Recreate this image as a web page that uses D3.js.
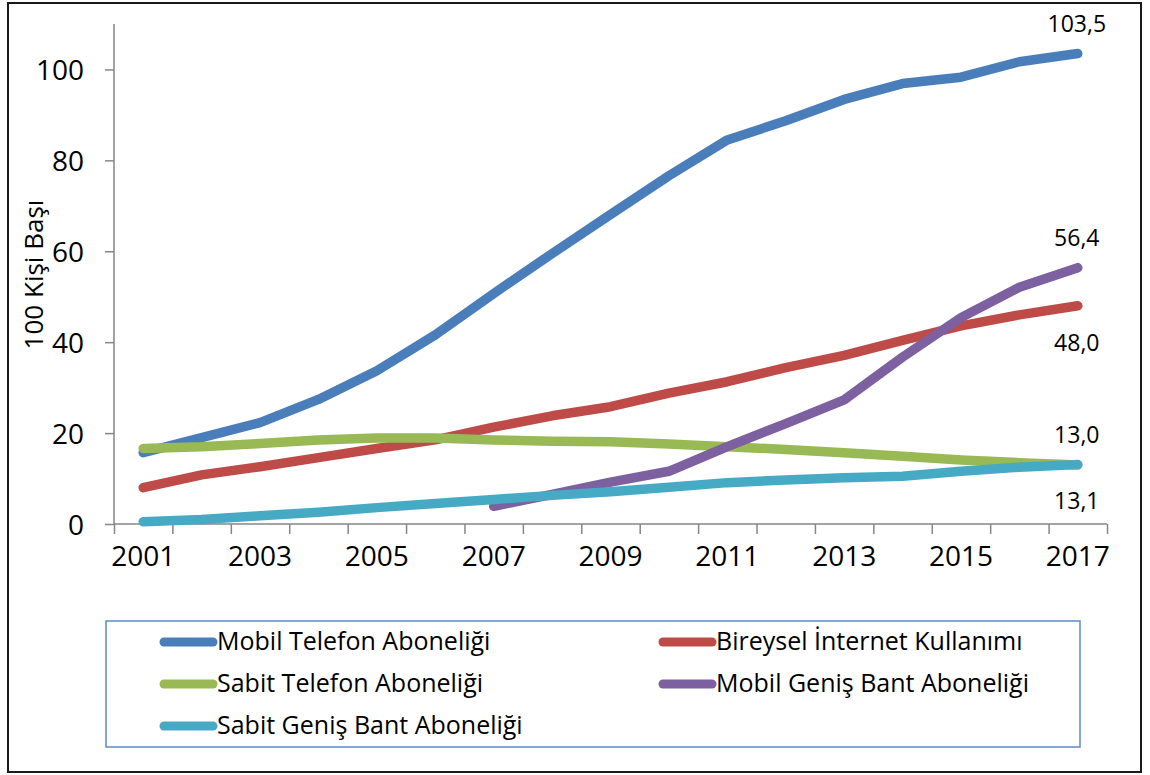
<!DOCTYPE html>
<html>
<head>
<meta charset="utf-8">
<script src="https://cdn.jsdelivr.net/npm/d3@7"></script>
<style>
  html, body { margin: 0; padding: 0; background: #fff; }
  svg { display: block; font-family: "Open Sans", sans-serif; }
</style>
</head>
<body>
<svg id="chart" width="1150" height="775"></svg>
<script>
// ---- data ----
const years = [2001,2002,2003,2004,2005,2006,2007,2008,2009,2010,2011,2012,2013,2014,2015,2016,2017];
const tickYears = [2001,2003,2005,2007,2009,2011,2013,2015,2017];
const yTicks = [0,20,40,60,80,100];
const seriesNames = ["Mobil Telefon Aboneliği","Bireysel İnternet Kullanımı","Sabit Telefon Aboneliği","Mobil Geniş Bant Aboneliği","Sabit Geniş Bant Aboneliği"];
const mobilTelefon   = [15.7,19.0,22.3,27.4,33.7,41.6,50.7,59.5,68.1,76.6,84.5,88.7,93.4,96.9,98.3,101.7,103.5];
const bireyselInternet = [8.0,10.8,12.6,14.6,16.6,18.5,21.3,23.8,25.8,28.8,31.3,34.4,37.1,40.4,43.6,46.0,48.0];
const sabitTelefon   = [16.6,17.0,17.7,18.5,18.9,18.9,18.5,18.2,18.1,17.6,17.0,16.4,15.7,14.9,14.1,13.5,13.0];
const mobilGenisBant = [null,null,null,null,null,null,3.9,6.5,9.2,11.6,17.0,22.1,27.3,36.7,45.4,52.1,56.4];
const sabitGenisBant = [0.5,1.0,1.8,2.6,3.6,4.5,5.4,6.3,7.1,8.1,9.1,9.7,10.2,10.5,11.6,12.5,13.1];
const seriesValues = [mobilTelefon, bireyselInternet, sabitTelefon, mobilGenisBant, sabitGenisBant];
const colors = ["#4A7EBB","#BE4B48","#98B954","#7D60A0","#46AAC5"];
const yTitle = "100 Kişi Başı";
// end-of-line labels: series index and placement
const endLabelSeries = [0,3,1,2,4];
const endLabelPlace  = ["above","above","below","above","below"];

(function draw() {
  const svg = d3.select("#chart");
  const pLeft = 114, pRight = 1107, pTop = 24, pBottom = 524;

  const x = d3.scaleBand().domain(years).range([pLeft, pRight]).padding(0);
  const xc = d => x(d) + x.bandwidth() / 2;
  const y = d3.scaleLinear().domain([0, 110]).range([pBottom, pTop]);
  const fmt = d3.formatLocale({decimal: ",", thousands: ".", grouping: [3], currency: ["", ""]}).format(".1f");

  // outer border
  svg.append("rect").attr("x", 8).attr("y", 3).attr("width", 1133).attr("height", 769)
    .attr("fill", "none").attr("stroke", "#1a1a1a").attr("stroke-width", 2);

  const axisColor = "#868686";

  // y axis
  const yAxis = svg.append("g").attr("transform", `translate(${pLeft},0)`)
    .call(d3.axisLeft(y).tickValues(yTicks).tickSize(9).tickPadding(21).tickFormat(d3.format("d")));
  yAxis.select(".domain").attr("stroke", axisColor).attr("stroke-width", 1.5).attr("d", `M0,${pTop}V${pBottom}`);
  yAxis.selectAll(".tick line").attr("stroke", axisColor).attr("stroke-width", 1.5);
  yAxis.selectAll(".tick text").attr("fill", "#000").style("font-size", "28px")
    .style("font-family", "'Open Sans', sans-serif").attr("dy", "0.36em");

  // x axis: boundary ticks
  const xb = d3.scaleLinear().domain([0, years.length]).range([pLeft, pRight]);
  const xAxis = svg.append("g").attr("transform", `translate(0,${pBottom})`)
    .call(d3.axisBottom(xb).tickValues(d3.range(years.length + 1)).tickSize(10).tickFormat(""));
  xAxis.select(".domain").attr("stroke", axisColor).attr("stroke-width", 1.5).attr("d", `M${pLeft},0H${pRight}`);
  xAxis.selectAll(".tick line").attr("stroke", axisColor).attr("stroke-width", 1.5);

  // x labels
  const xLab = svg.append("g").attr("transform", `translate(0,${pBottom})`)
    .call(d3.axisBottom(x).tickValues(tickYears).tickSize(0).tickPadding(22));
  xLab.select(".domain").remove();
  xLab.selectAll(".tick text").attr("fill", "#000").style("font-size", "28px")
    .style("font-family", "'Open Sans', sans-serif");

  // y title
  svg.append("text").attr("transform", `translate(43,${(197 + 352) / 2}) rotate(-90)`)
    .attr("text-anchor", "middle").style("font-size", "26px").attr("fill", "#000").text(yTitle);

  // lines
  const line = d3.line().defined(d => d.v != null).x(d => xc(d.year)).y(d => y(d.v));
  seriesValues.forEach((vals, i) => {
    const pts = years.map((yr, j) => ({year: yr, v: vals[j]}));
    svg.append("path").datum(pts).attr("d", line)
      .attr("fill", "none").attr("stroke", colors[i]).attr("stroke-width", 9.5)
      .attr("stroke-linecap", "round").attr("stroke-linejoin", "round");
  });

  // end labels
  const lastYear = years[years.length - 1];
  endLabelSeries.forEach((si, k) => {
    const v = seriesValues[si][years.length - 1];
    const py = y(v);
    svg.append("text").attr("x", xc(lastYear) - 1)
      .attr("y", endLabelPlace[k] === "above" ? py - 22 : py + 45)
      .attr("text-anchor", "middle").style("font-size", "23px").attr("fill", "#000")
      .text(fmt(v));
  });

  // legend
  const lg = svg.append("g");
  lg.append("rect").attr("x", 106).attr("y", 621).attr("width", 974).attr("height", 126)
    .attr("fill", "none").attr("stroke", "#5B8BC9").attr("stroke-width", 1.5);
  const colX = [160, 659], rowY = [642, 684, 726];
  seriesNames.forEach((name, i) => {
    const cx = colX[i % 2], cy = rowY[Math.floor(i / 2)];
    lg.append("line").attr("x1", cx + 4).attr("x2", cx + 53).attr("y1", cy).attr("y2", cy)
      .attr("stroke", colors[i]).attr("stroke-width", 9).attr("stroke-linecap", "round");
    lg.append("text").attr("x", cx + 57).attr("y", cy + 8).style("font-size", "25px")
      .attr("fill", "#000").text(name);
  });
})();
</script>
</body>
</html>
